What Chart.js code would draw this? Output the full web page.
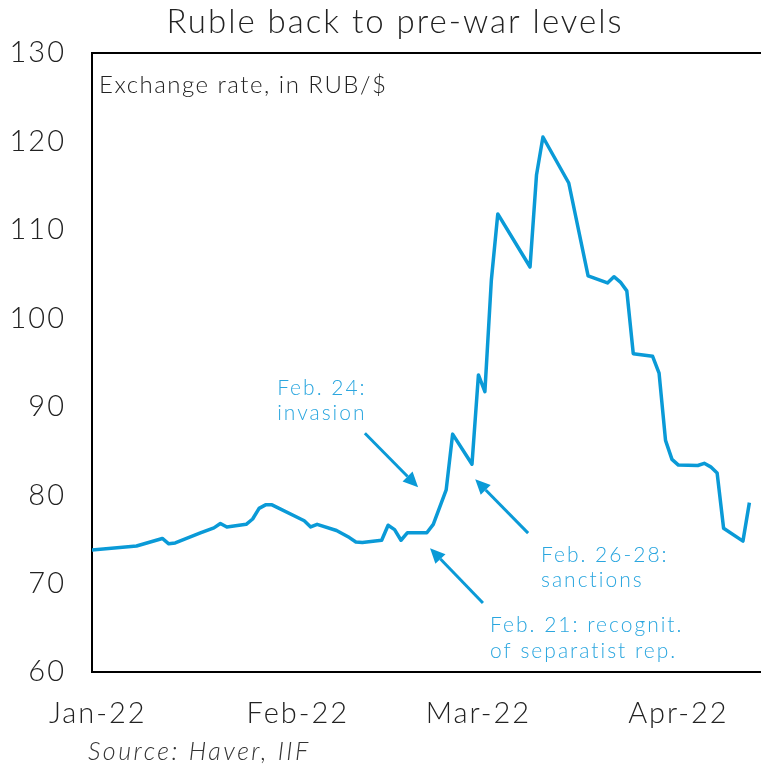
<!DOCTYPE html>
<html>
<head>
<meta charset="utf-8">
<script src="https://cdn.jsdelivr.net/npm/chart.js@4/dist/chart.umd.min.js"></script>
<style>
  html, body { margin: 0; padding: 0; background: #fff; overflow: hidden; }
  #wrap { width: 761px; height: 768px; position: relative; }
</style>
</head>
<body>
<div id="wrap"><canvas id="c"></canvas></div>
<script>
// Daily RUB/$ exchange rate
const dates = [
  '2021-12-31', '2022-01-07', '2022-01-11', '2022-01-12', '2022-01-13', '2022-01-17',
  '2022-01-19', '2022-01-20', '2022-01-21', '2022-01-24', '2022-01-25', '2022-01-26',
  '2022-01-27', '2022-01-28', '2022-02-02', '2022-02-03', '2022-02-04', '2022-02-07',
  '2022-02-09', '2022-02-10', '2022-02-11', '2022-02-14', '2022-02-15', '2022-02-16',
  '2022-02-17', '2022-02-18', '2022-02-21', '2022-02-22', '2022-02-24', '2022-02-25',
  '2022-02-28', '2022-03-01', '2022-03-02', '2022-03-03', '2022-03-04', '2022-03-09',
  '2022-03-10', '2022-03-11', '2022-03-14', '2022-03-15', '2022-03-18', '2022-03-21',
  '2022-03-22', '2022-03-23', '2022-03-24', '2022-03-25', '2022-03-28', '2022-03-29',
  '2022-03-30', '2022-03-31', '2022-04-01', '2022-04-04', '2022-04-05', '2022-04-06',
  '2022-04-07', '2022-04-08', '2022-04-11', '2022-04-12'
];
const rates = [
  73.8, 74.25, 75.1, 74.5, 74.6, 75.75,
  76.3, 76.8, 76.4, 76.7, 77.3, 78.5,
  78.9, 78.9, 77.1, 76.4, 76.7, 76.0,
  75.2, 74.7, 74.65, 74.9, 76.6, 76.1,
  74.9, 75.75, 75.75, 76.7, 80.6, 86.9,
  83.5, 93.6, 91.7, 104.3, 111.8, 105.8,
  116.2, 120.5, 116.6, 115.3, 104.8, 104.0,
  104.7, 104.1, 103.1, 96.0, 95.7, 93.8,
  86.2, 84.05, 83.4, 83.35, 83.6, 83.2,
  82.5, 76.25, 74.8, 79.15
];

// Month ticks on the date axis
const tickDates = ['2022-01-01', '2022-02-01', '2022-03-01', '2022-04-01'];
const tickLabels = ['Jan-22', 'Feb-22', 'Mar-22', 'Apr-22'];
const yTicks = [60, 70, 80, 90, 100, 110, 120, 130];

// Event notes: text lines anchored at (date, rate), arrows from -> to
const noteLines = [
  { text: 'Feb. 24:',           day: 27.8, val: 92.1 },
  { text: 'invasion',           day: 27.8, val: 89.3 },
  { text: 'Feb. 26-28:',        day: 68.7, val: 73.2 },
  { text: 'sanctions',          day: 68.7, val: 70.4 },
  { text: 'Feb. 21: recognit.', day: 60.8, val: 65.3 },
  { text: 'of separatist rep.', day: 60.8, val: 62.3 }
];
const noteArrows = [
  { from: [41.4, 87.0], to: [49.65, 80.9] },
  { from: [66.7, 75.7], to: [58.5, 81.8] },
  { from: [59.7, 67.8], to: [51.5, 74.0] }
];

const DAY0 = Date.UTC(2022, 0, 1);
function dayOf(s) {
  const [y, m, d] = s.split('-').map(Number);
  return (Date.UTC(y, m - 1, d) - DAY0) / 86400000;
}
const points = dates.map((d, i) => ({ x: dayOf(d), y: rates[i] }));
const tickDays = tickDates.map(dayOf);

const FONT = 'Lato, "Liberation Sans", Arial, sans-serif';
const LINE_BLUE = '#0a9ad7';
const NOTE_BLUE = '#2aa6df';

const textPlugin = {
  id: 'texts',
  beforeLayout(chart) { chart.ctx.letterSpacing = '2px'; },
  beforeDraw(chart) { chart.ctx.letterSpacing = '2px'; },
  afterDraw(chart) {
    const ctx = chart.ctx;
    const xs = chart.scales.x, ys = chart.scales.y;
    const area = chart.chartArea;
    ctx.save();

    // top frame line
    ctx.strokeStyle = '#000';
    ctx.lineWidth = 2;
    ctx.beginPath();
    ctx.moveTo(area.left - 1, area.top);
    ctx.lineTo(chart.width, area.top);
    ctx.stroke();

    // title
    ctx.letterSpacing = '2px';
    ctx.fillStyle = '#222';
    ctx.font = '300 33px ' + FONT;
    ctx.textAlign = 'center';
    ctx.textBaseline = 'middle';
    ctx.fillText('Ruble back to pre-war levels', 395, 22);

    // unit label
    ctx.letterSpacing = '1.5px';
    ctx.font = '300 24px ' + FONT;
    ctx.textAlign = 'left';
    ctx.fillText('Exchange rate, in RUB/$', 99, 85);

    // source
    ctx.letterSpacing = '2.5px';
    ctx.fillStyle = '#333';
    ctx.font = 'italic 300 25px ' + FONT;
    ctx.fillText('Source: Haver, IIF', 88, 752);

    // notes
    ctx.fillStyle = NOTE_BLUE;
    ctx.font = '300 21px ' + FONT;
    ctx.letterSpacing = '2px';
    noteLines.forEach(n => {
      ctx.fillText(n.text, xs.getPixelForValue(n.day), ys.getPixelForValue(n.val));
    });

    // arrows
    ctx.strokeStyle = LINE_BLUE;
    ctx.fillStyle = LINE_BLUE;
    ctx.lineWidth = 3;
    noteArrows.forEach(a => {
      const x1 = xs.getPixelForValue(a.from[0]), y1 = ys.getPixelForValue(a.from[1]);
      const x2 = xs.getPixelForValue(a.to[0]), y2 = ys.getPixelForValue(a.to[1]);
      const ang = Math.atan2(y2 - y1, x2 - x1);
      const head = 15, half = 7;
      const bx = x2 - head * Math.cos(ang), by = y2 - head * Math.sin(ang);
      ctx.beginPath();
      ctx.moveTo(x1, y1);
      ctx.lineTo(bx, by);
      ctx.stroke();
      ctx.beginPath();
      ctx.moveTo(x2, y2);
      ctx.lineTo(bx + half * Math.sin(ang), by - half * Math.cos(ang));
      ctx.lineTo(bx - half * Math.sin(ang), by + half * Math.cos(ang));
      ctx.closePath();
      ctx.fill();
    });
    ctx.restore();
  }
};

new Chart(document.getElementById('c'), {
  type: 'line',
  data: {
    datasets: [{
      data: points,
      borderColor: LINE_BLUE,
      borderWidth: 3.5,
      borderJoinStyle: 'round',
      pointRadius: 0,
      tension: 0,
      fill: false
    }]
  },
  options: {
    responsive: true,
    maintainAspectRatio: false,
    animation: false,
    events: [],
    layout: { padding: { top: 53, right: 0, left: 0, bottom: 0 } },
    plugins: { legend: { display: false }, title: { display: false }, tooltip: { enabled: false } },
    scales: {
      x: {
        type: 'linear',
        min: -0.9,
        max: 102.8,
        grid: { display: false, drawTicks: false },
        border: { display: true, color: '#000', width: 2 },
        afterBuildTicks: s => { s.ticks = tickDays.map(v => ({ value: v })); },
        afterFit: s => { s.height = 96; },
        ticks: {
          autoSkip: false,
          maxRotation: 0,
          padding: 24,
          color: '#222',
          font: { family: FONT, size: 29, weight: '300' },
          callback: v => tickLabels[tickDays.indexOf(v)] ?? ''
        }
      },
      y: {
        min: 60,
        max: 130,
        grid: { display: false, drawTicks: false },
        border: { display: true, color: '#000', width: 2 },
        afterBuildTicks: s => { s.ticks = yTicks.map(v => ({ value: v })); },
        afterFit: s => { s.width = 92; },
        ticks: {
          padding: 26,
          color: '#222',
          font: { family: FONT, size: 29, weight: '300' }
        }
      }
    }
  },
  plugins: [textPlugin]
});
</script>
</body>
</html>
